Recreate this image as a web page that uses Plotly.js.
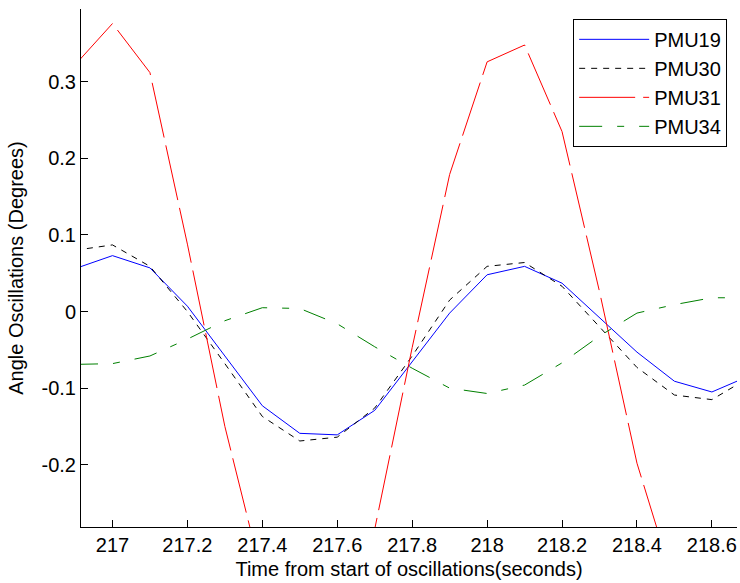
<!DOCTYPE html>
<html>
<head>
<meta charset="utf-8">
<script src="https://cdn.plot.ly/plotly-3.0.1.min.js"></script>
<style>html,body{margin:0;padding:0;background:#fff;}#chart{width:740px;height:583px;}</style>
</head>
<body>
<div id="chart"></div>
<script>
// Time (seconds) sampled every 0.1 s
const time = [216.9, 217.0, 217.1, 217.2, 217.3, 217.4, 217.5, 217.6, 217.7, 217.8, 217.9, 218.0, 218.1, 218.2, 218.3, 218.4, 218.5, 218.6, 218.7];
const pmu19 = [0.056, 0.073, 0.057, 0.007, -0.058, -0.123, -0.159, -0.161, -0.129, -0.065, -0.002, 0.048, 0.059, 0.037, -0.008, -0.053, -0.091, -0.105, -0.084];
const pmu30 = [0.080, 0.087, 0.059, 0.000, -0.068, -0.137, -0.169, -0.164, -0.126, -0.058, 0.015, 0.059, 0.064, 0.033, -0.020, -0.073, -0.109, -0.115, -0.086];
const pmu31 = [0.322, 0.376, 0.312, 0.088, -0.150, -0.347, -0.450, -0.420, -0.284, -0.047, 0.179, 0.326, 0.348, 0.235, 0.026, -0.198, -0.357, -0.420, -0.400];
const pmu34 = [-0.069, -0.068, -0.058, -0.036, -0.012, 0.005, 0.004, -0.016, -0.046, -0.074, -0.100, -0.107, -0.096, -0.067, -0.032, -0.002, 0.009, 0.018, 0.018];

const xTickVals = [217, 217.2, 217.4, 217.6, 217.8, 218, 218.2, 218.4, 218.6];
const xTickText = ["217", "217.2", "217.4", "217.6", "217.8", "218", "218.2", "218.4", "218.6"];
const yTickVals = [-0.2, -0.1, 0, 0.1, 0.2, 0.3];
const yTickText = ["-0.2", "-0.1", "0", "0.1", "0.2", "0.3"];

const FONT = "Liberation Sans, Arial, Helvetica, sans-serif";

const traces = [
  {x: time, y: pmu19, name: "PMU19", legendgroup: "a", mode: "lines", line: {color: "#0000ff", width: 1, dash: "solid"}},
  {x: time, y: pmu30, name: "PMU30", legendgroup: "b", mode: "lines", line: {color: "#000000", width: 1, dash: "6px,6px"}},
  {x: time, y: pmu31, name: "PMU31", legendgroup: "c", mode: "lines", line: {color: "#ff0000", width: 1, dash: "56px,8px"}},
  {x: time, y: pmu34, name: "PMU34", legendgroup: "d", mode: "lines", line: {color: "#008000", width: 1, dash: "23px,15px,7px,15px"}}
];

const layout = {
  width: 740, height: 583,
  margin: {l: 81, r: 3, t: 9, b: 56},
  paper_bgcolor: "#ffffff", plot_bgcolor: "#ffffff",
  font: {family: FONT, size: 20, color: "#000000"},
  showlegend: true,
  legend: {
    x: 0.985, y: 0.981, xanchor: "right", yanchor: "top",
    bgcolor: "#ffffff", bordercolor: "#000000", borderwidth: 1,
    font: {family: FONT, size: 20, color: "#000000"},
    tracegroupgap: 0, itemwidth: 70
  },
  xaxis: {
    range: [216.916, 218.667],
    tickmode: "array", tickvals: xTickVals, ticktext: xTickText,
    ticks: "inside", ticklen: 7, tickwidth: 1, tickcolor: "#000000",
    showline: true, linecolor: "#000000", linewidth: 1, mirror: false,
    showgrid: false, zeroline: false,
    tickfont: {family: FONT, size: 20, color: "#000000"},
    title: {text: "Time from start of oscillations(seconds)", font: {family: FONT, size: 20, color: "#000000"}, standoff: 6},
    automargin: false
  },
  yaxis: {
    range: [-0.2813, 0.395],
    tickmode: "array", tickvals: yTickVals, ticktext: yTickText,
    ticks: "inside", ticklen: 7, tickwidth: 1, tickcolor: "#000000",
    showline: true, linecolor: "#000000", linewidth: 1, mirror: false,
    showgrid: false, zeroline: false,
    tickfont: {family: FONT, size: 20, color: "#000000"},
    title: {text: "Angle Oscillations (Degrees)", font: {family: FONT, size: 20, color: "#000000"}, standoff: 12},
    automargin: false
  }
};

Plotly.newPlot("chart", traces, layout, {displayModeBar: false, staticPlot: true});
</script>
</body>
</html>
